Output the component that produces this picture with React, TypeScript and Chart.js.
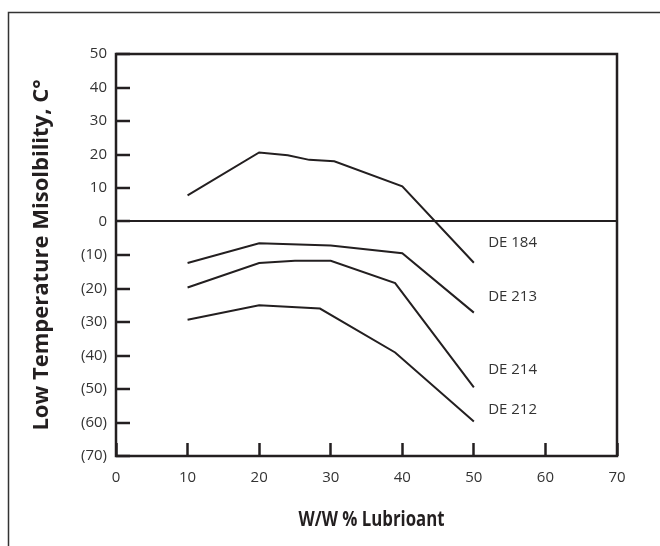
import React, { useEffect, useRef } from 'react';
import { Chart, registerables } from 'chart.js';

Chart.register(...registerables);

const xTicks = [0, 10, 20, 30, 40, 50, 60, 70];
const yTicks = [50, 40, 30, 20, 10, 0, -10, -20, -30, -40, -50, -60, -70];

const seriesNames = ['DE 184', 'DE 213', 'DE 214', 'DE 212'];
const de184X = [10, 20, 24, 27, 30.5, 40, 50];
const de184Y = [7.8, 20.6, 19.8, 18.4, 18, 10.5, -12.3];
const de213X = [10, 20, 30, 40, 50];
const de213Y = [-12.4, -6.5, -7.2, -9.5, -27.2];
const de214X = [10, 20, 25, 30, 39, 50];
const de214Y = [-19.7, -12.4, -11.7, -11.7, -18.4, -49.5];
const de212X = [10, 20, 28.5, 39, 50];
const de212Y = [-29.3, -25, -26, -39.1, -59.7];

// anchor points (data coords) for series name labels
const labelX = [52, 52, 52, 52];
const labelY = [-6.3, -22.6, -44.3, -56.2];

const xTitle = 'W/W % Lubrioant';
const yTitle = 'Low Temperature Misolbility, C°';

const INK = '#231f20';
const TEXT = '#333333';
const FONT = '"Open Sans", sans-serif';

const fmtY = (v: number) => (v < 0 ? `(${-v})` : `${v}`);

const zip = (xs: number[], ys: number[]) => xs.map((x, i) => ({ x, y: ys[i] }));

const framePlugin = {
  id: 'frame',
  beforeDraw(chart: any) {
    const { ctx, width, height } = chart;
    ctx.save();
    ctx.fillStyle = '#ffffff';
    ctx.fillRect(0, 0, width, height);
    ctx.strokeStyle = '#333333';
    ctx.lineWidth = 1.5;
    ctx.beginPath();
    ctx.moveTo(8.5, height + 2);
    ctx.lineTo(8.5, 12.5);
    ctx.lineTo(width + 2, 12.5);
    ctx.stroke();
    ctx.restore();
  },
  afterDraw(chart: any) {
    const { ctx, chartArea } = chart;
    ctx.save();
    ctx.strokeStyle = INK;
    ctx.lineWidth = 2.5;
    ctx.strokeRect(chartArea.left, chartArea.top, chartArea.right - chartArea.left, chartArea.bottom - chartArea.top);
    // x-axis title (narrow bold face emulated by horizontal compression)
    ctx.fillStyle = INK;
    ctx.font = `bold 21px ${FONT}`;
    ctx.textAlign = 'center';
    ctx.textBaseline = 'alphabetic';
    ctx.translate((chartArea.left + chartArea.right) / 2 + 5, 526);
    ctx.scale(0.8, 1);
    ctx.fillText(xTitle, 0, 0);
    ctx.restore();
  },
};

const labelPlugin = {
  id: 'seriesLabels',
  afterDatasetsDraw(chart: any) {
    const { ctx, scales } = chart;
    ctx.save();
    ctx.font = `15px ${FONT}`;
    ctx.fillStyle = TEXT;
    ctx.textAlign = 'left';
    ctx.textBaseline = 'middle';
    seriesNames.forEach((name, i) => {
      ctx.fillText(name, scales.x.getPixelForValue(labelX[i]), scales.y.getPixelForValue(labelY[i]));
    });
    ctx.restore();
  },
};

export default function App() {
  const ref = useRef<HTMLCanvasElement | null>(null);

  useEffect(() => {
    if (!ref.current) return;
    const lineStyle = {
      borderColor: INK,
      backgroundColor: INK,
      borderWidth: 2,
      pointRadius: 0,
      showLine: true,
      tension: 0,
      fill: false,
    };
    const chart = new Chart(ref.current, {
      type: 'scatter',
      data: {
        datasets: [
          { label: seriesNames[0], data: zip(de184X, de184Y), ...lineStyle },
          { label: seriesNames[1], data: zip(de213X, de213Y), ...lineStyle },
          { label: seriesNames[2], data: zip(de214X, de214Y), ...lineStyle },
          { label: seriesNames[3], data: zip(de212X, de212Y), ...lineStyle },
        ],
      },
      options: {
        responsive: false,
        animation: false,
        layout: { padding: { left: 0, top: 54, right: 43, bottom: 0 } },
        plugins: {
          legend: { display: false },
          tooltip: { enabled: false },
        },
        scales: {
          x: {
            type: 'linear',
            min: 0,
            max: 70,
            afterBuildTicks: (s: any) => {
              s.ticks = xTicks.map((v) => ({ value: v }));
            },
            afterFit: (s: any) => {
              s.height = 90;
            },
            border: { display: false },
            grid: {
              drawOnChartArea: false,
              drawTicks: true,
              tickLength: -13,
              tickColor: INK,
              tickWidth: 2.5,
              color: INK,
            },
            ticks: {
              padding: 26,
              color: TEXT,
              font: { family: FONT, size: 15 },
              maxRotation: 0,
              callback: (v: any) => `${v}`,
            },
            title: { display: false, text: xTitle },
          },
          y: {
            type: 'linear',
            min: -70,
            max: 50,
            afterBuildTicks: (s: any) => {
              s.ticks = yTicks.map((v) => ({ value: v }));
            },
            afterFit: (s: any) => {
              s.width = 116;
            },
            border: { display: false },
            grid: {
              drawOnChartArea: true,
              drawTicks: true,
              tickLength: -14,
              tickColor: INK,
              tickWidth: 2.5,
              lineWidth: 2,
              color: (c: any) => (c.tick && c.tick.value === 0 ? INK : 'rgba(0,0,0,0)'),
            },
            ticks: {
              padding: 23,
              color: TEXT,
              font: { family: FONT, size: 15 },
              callback: (v: any) => fmtY(Number(v)),
            },
            title: {
              display: true,
              text: yTitle,
              color: INK,
              font: { family: FONT, size: 22, weight: 'bold' },
              padding: { top: 29, bottom: 0 },
            },
          },
        },
      },
      plugins: [framePlugin, labelPlugin],
    });
    return () => chart.destroy();
  }, []);

  return (
    <div style={{ position: 'absolute', left: 0, top: 0, width: 660, height: 546 }}>
      <canvas ref={ref} width={660} height={546} style={{ display: 'block', width: 660, height: 546 }} />
    </div>
  );
}
